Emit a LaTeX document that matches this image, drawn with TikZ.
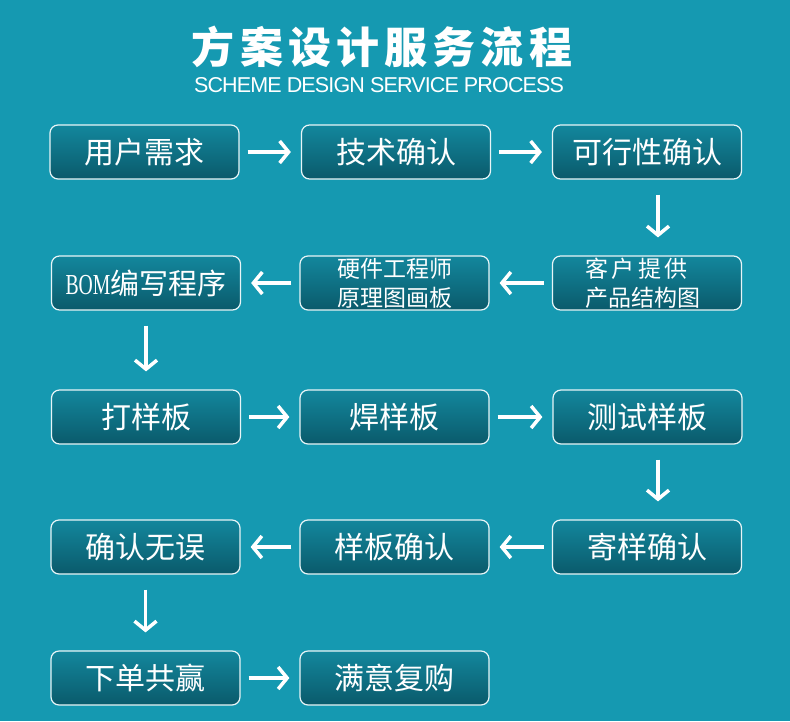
\documentclass[tikz,border=0pt]{standalone}
\usepackage{fontspec}
\setmainfont{Liberation Sans}
\newfontfamily\cjk{Noto Sans CJK SC}
\newfontfamily\bomfont[FakeStretch=0.68]{Liberation Serif}
\usetikzlibrary{arrows.meta}
\definecolor{bgteal}{HTML}{1599B1}
\definecolor{boxtop}{HTML}{13879D}
\definecolor{boxbot}{HTML}{0A5A6B}
\tikzset{
  stepbox/.style={draw=white!90!bgteal, line width=1.2pt, rounded corners=8pt,
    top color=boxtop, bottom color=boxbot, minimum width=189pt, minimum height=54pt,
    inner sep=0pt, text=white, font=\cjk\fontsize{30}{32}\selectfont},
  twoline/.style={font=\cjk\fontsize{23}{29}\selectfont, align=center},
  flow/.style={draw=white, line width=3.8pt,
    -{Straight Barb[length=9pt,width=22pt,line width=3.5pt]}},
  hflow/.style={flow, shorten <=8pt, shorten >=10pt},
  vflow/.style={flow, shorten <=15pt, shorten >=18pt},
}
\begin{document}
\begin{tikzpicture}[x=1pt,y=-1pt]
\fill[bgteal] (0,0) rectangle (790,721);
\useasboundingbox (0,0) rectangle (790,721);
\node[text=white, font=\cjk\bfseries\fontsize{43}{45}\selectfont] (title) at (382,47) {\addfontfeature{LetterSpace=12}方案设计服务流程};
\node[text=white, font=\fontsize{21.5}{24}\selectfont] (sub) at (379,85) {\addfontfeature{LetterSpace=-4}SCHEME DESIGN SERVICE PROCESS};
% row 1
\node[stepbox] (a1) at (144.5,152) {用户需求};
\node[stepbox] (a2) at (396,152) {技术确认};
\node[stepbox] (a3) at (647,152) {可行性确认};
% row 2
\node[stepbox] (b1) at (146,283) {\fontsize{29}{31}\selectfont{\bomfont BOM}编写程序};
\node[stepbox, twoline] (b2) at (394.5,283) {硬件工程师\\原理图画板};
\node[stepbox, twoline, align=left] (b3) at (647,283) {\hspace*{-8pt}{\addfontfeature{LetterSpace=15}客户提供}\\\hspace*{-8pt}产品结构图};
% row 3
\node[stepbox] (c1) at (146,417) {打样板};
\node[stepbox] (c2) at (394.5,417) {焊样板};
\node[stepbox] (c3) at (647.5,417) {测试样板};
% row 4
\node[stepbox] (d1) at (145.5,547) {确认无误};
\node[stepbox] (d2) at (394.5,547) {样板确认};
\node[stepbox] (d3) at (647,547) {寄样确认};
% row 5
\node[stepbox] (e1) at (145.5,678) {下单共赢};
\node[stepbox] (e2) at (394.5,678) {满意复购};
% connectors
\draw[hflow] (a1) -- (a2);
\draw[hflow] (a2) -- (a3);
\draw[vflow] ([xshift=11pt]a3.south) -- ([xshift=11pt]b3.north);
\draw[hflow] (b3) -- (b2);
\draw[hflow] (b2) -- (b1);
\draw[vflow] (b1) -- (c1);
\draw[hflow] (c1) -- (c2);
\draw[hflow] (c2) -- (c3);
\draw[vflow] ([xshift=10.5pt]c3.south) -- ([xshift=11pt]d3.north);
\draw[hflow] (d3) -- (d2);
\draw[hflow] (d2) -- (d1);
\draw[vflow] (d1) -- (e1);
\draw[hflow] (e1) -- (e2);
\end{tikzpicture}
\end{document}
